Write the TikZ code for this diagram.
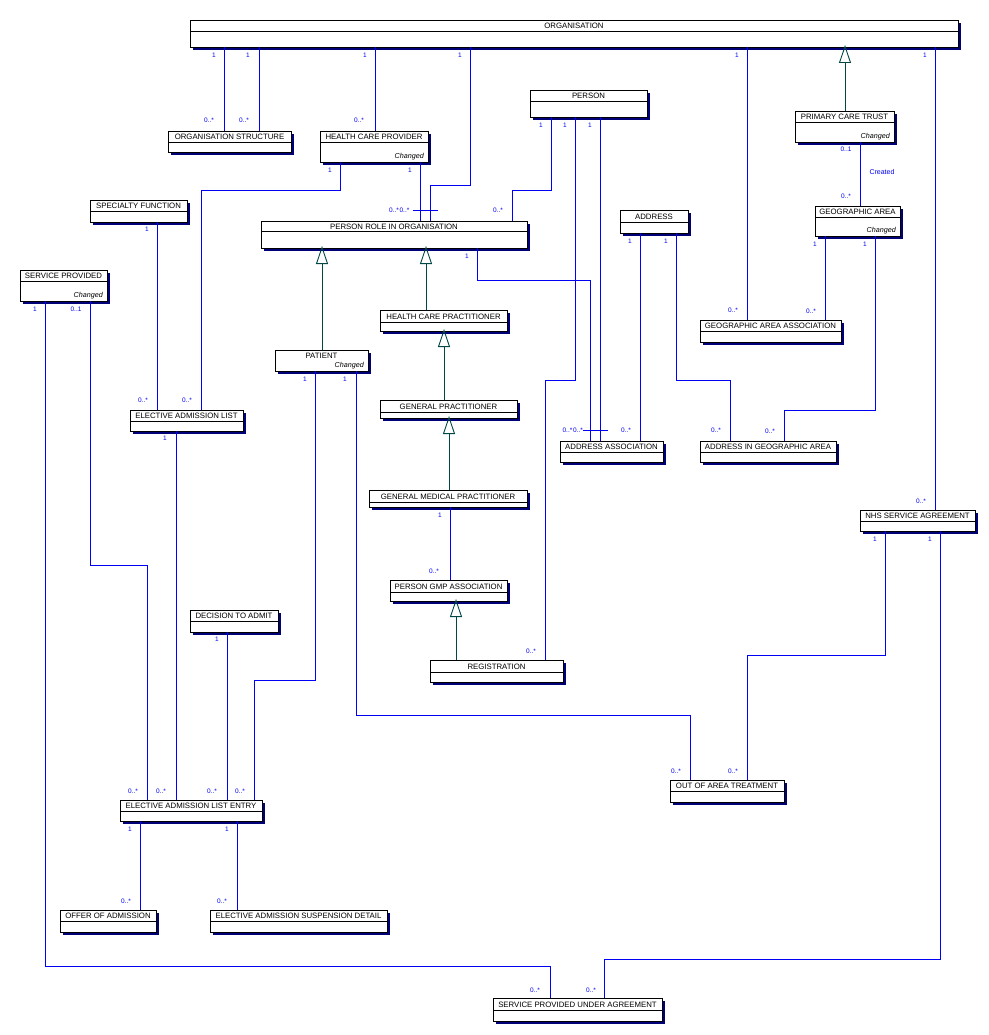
\documentclass[tikz,border=0pt]{standalone}
\usepackage{fontspec}
\setmainfont{Liberation Sans}
\usetikzlibrary{arrows.meta}
\definecolor{assocblue}{RGB}{0,0,245}
\definecolor{shadowc}{RGB}{0,0,120}
\definecolor{genc}{RGB}{0,72,72}
\tikzset{
  box/.style={draw=black, fill=white, line width=0.9pt, inner sep=0pt, outer sep=0pt},
  boxline/.style={draw=black, line width=0.9pt},
  titletext/.style={font=\fontsize{7.8}{9}\selectfont, inner sep=0pt},
  chg/.style={font=\itshape\fontsize{7.2}{8}\selectfont, inner sep=0pt, anchor=east},
  assoc/.style={draw=assocblue, line width=0.8pt},
  gen/.style={draw=genc, line width=0.9pt, -{Triangle[open, length=18pt, width=12pt]}, shorten >=-2pt},
  mult/.style={text=assocblue, font=\fontsize{6.5}{7}\selectfont, inner sep=0pt},
}
\newcounter{mlab}
\newcommand\ml[3]{\stepcounter{mlab}\node[mult] (m\arabic{mlab}) at (#1,#2) {#3};}
\newcommand\umlbox[7]{%
  \fill[shadowc] (#2+3,#3+3) rectangle (#4+3,#5+3);
  \node[box, minimum width={(#4-#2)*1pt}, minimum height={(#5-#3)*1pt}] (#1) at ({(#2+#4)/2},{(#3+#5)/2}) {};
  \draw[boxline] (#2,#6) -- (#4,#6);
  \node[titletext] (#1-t) at ({(#2+#4)/2},{(#3+#6)/2+0.7}) {#7};
}
\newcommand\umlboxc[7]{%
  \umlbox{#1}{#2}{#3}{#4}{#5}{#6}{#7}%
  \node[chg] (#1-c) at (#4-4,#5-5.5) {Changed};
}
\begin{document}
\begin{tikzpicture}[x=1pt,y=-1pt]
\useasboundingbox (0,0) rectangle (988,1035);
\fill[white] (0,0) rectangle (988,1035);

% ---------- classes ----------
\umlbox{org}{190}{20}{958}{47}{31}{ORGANISATION}
\umlbox{os}{168}{131}{291}{152}{142}{ORGANISATION STRUCTURE}
\umlboxc{hcp}{320}{131}{428}{162}{142}{HEALTH CARE PROVIDER}
\umlbox{person}{530}{90}{647}{117}{101}{PERSON}
\umlboxc{pct}{795}{111}{894}{142}{122}{PRIMARY CARE TRUST}
\umlboxc{ga}{815}{206}{900}{236}{217}{GEOGRAPHIC AREA}
\umlbox{addr}{620}{210}{688}{233}{222}{ADDRESS}
\umlbox{prio}{261}{221}{527}{248}{231}{PERSON ROLE IN ORGANISATION}
\umlbox{sf}{90}{200}{187}{222}{211}{SPECIALTY FUNCTION}
\umlboxc{sp}{20}{270}{107}{301}{281}{SERVICE PROVIDED}
\umlbox{gaa}{700}{320}{841}{342}{331}{GEOGRAPHIC AREA ASSOCIATION}
\umlbox{hcpr}{380}{310}{507}{331}{322}{HEALTH CARE PRACTITIONER}
\fill[shadowc] (278,353) rectangle (371,374);
\node[box, minimum width=93pt, minimum height=21pt] (pat) at (321.5,360.5) {};
\node[titletext] (pat-t) at (321.5,356) {PATIENT};
\node[chg] (pat-c) at (364,366) {Changed};
\umlbox{gp}{380}{400}{517}{418}{412}{GENERAL PRACTITIONER}
\umlbox{eal}{130}{410}{243}{431}{421}{ELECTIVE ADMISSION LIST}
\umlbox{aa}{560}{441}{663}{462}{452}{ADDRESS ASSOCIATION}
\umlbox{aiga}{700}{441}{836}{462}{452}{ADDRESS IN GEOGRAPHIC AREA}
\umlbox{gmp}{369}{490}{527}{507}{502}{GENERAL MEDICAL PRACTITIONER}
\umlbox{nhs}{860}{510}{975}{531}{521}{NHS SERVICE AGREEMENT}
\umlbox{pga}{390}{580}{507}{601}{592}{PERSON GMP ASSOCIATION}
\umlbox{dta}{190}{610}{278}{632}{621}{DECISION TO ADMIT}
\umlbox{reg}{430}{660}{563}{682}{672}{REGISTRATION}
\umlbox{ooat}{670}{780}{784}{802}{791}{OUT OF AREA TREATMENT}
\umlbox{eale}{120}{800}{262}{821}{811}{ELECTIVE ADMISSION LIST ENTRY}
\umlbox{ooa}{60}{910}{156}{932}{921}{OFFER OF ADMISSION}
\umlbox{susp}{210}{910}{387}{932}{921}{ELECTIVE ADMISSION SUSPENSION DETAIL}
\umlbox{spua}{493}{998}{662}{1021}{1010}{SERVICE PROVIDED UNDER AGREEMENT}

% ---------- associations ----------
\draw[assoc] (224,0 |- org.south) -- (224,0 |- os.north);
\draw[assoc] (259,0 |- org.south) -- (259,0 |- os.north);
\draw[assoc] (375,0 |- org.south) -- (375,0 |- hcp.north);
\draw[assoc] (470,0 |- org.south) |- (430,185) -- (430,0 |- prio.north);
\draw[assoc] (420,0 |- hcp.south) -- (420,0 |- prio.north);
\draw[assoc] (413,210) -- (438,210);
\draw[assoc] (551,0 |- person.south) |- (512,190) -- (512,0 |- prio.north);
\draw[assoc] (340,0 |- hcp.south) |- (201,190) -- (201,0 |- eal.north);
\draw[assoc] (157,0 |- sf.south) -- (157,0 |- eal.north);
\draw[assoc] (45,0 |- sp.south) |- (550,966) -- (550,0 |- spua.north);
\draw[assoc] (90,0 |- sp.south) |- (147,565) -- (147,0 |- eale.north);
\draw[assoc] (176,0 |- eal.south) -- (176,0 |- eale.north);
\draw[assoc] (227,0 |- dta.south) -- (227,0 |- eale.north);
\draw[assoc] (315,0 |- pat.south) |- (254,680) -- (254,0 |- eale.north);
\draw[assoc] (356,0 |- pat.south) |- (690,715) -- (690,0 |- ooat.north);
\draw[assoc] (885,0 |- nhs.south) |- (747,655) -- (747,0 |- ooat.north);
\draw[assoc] (940,0 |- nhs.south) |- (604,959) -- (604,0 |- spua.north);
\draw[assoc] (935,0 |- org.south) -- (935,0 |- nhs.north);
\draw[assoc] (747,0 |- org.south) -- (747,0 |- gaa.north);
\draw[assoc] (860,0 |- pct.south) -- (860,0 |- ga.north);
\draw[assoc] (825,0 |- ga.south) -- (825,0 |- gaa.north);
\draw[assoc] (875,0 |- ga.south) |- (784,410) -- (784,0 |- aiga.north);
\draw[assoc] (640,0 |- addr.south) -- (640,0 |- aa.north);
\draw[assoc] (676,0 |- addr.south) |- (730,380) -- (730,0 |- aiga.north);
\draw[assoc] (600,0 |- person.south) -- (600,0 |- aa.north);
\draw[assoc] (477,0 |- prio.south) |- (590,280) -- (590,0 |- aa.north);
\draw[assoc] (583,430) -- (608,430);
\draw[assoc] (575,0 |- person.south) |- (545,380) -- (545,0 |- reg.north);
\draw[assoc] (450,0 |- gmp.south) -- (450,0 |- pga.north);
\draw[assoc] (140,0 |- eale.south) -- (140,0 |- ooa.north);
\draw[assoc] (237,0 |- eale.south) -- (237,0 |- susp.north);

% ---------- generalisations ----------
\draw[gen] (322,0 |- pat.north) -- (322,0 |- prio.south);
\draw[gen] (426,0 |- hcpr.north) -- (426,0 |- prio.south);
\draw[gen] (444,0 |- gp.north) -- (444,0 |- hcpr.south);
\draw[gen] (449,0 |- gmp.north) -- (449,0 |- gp.south);
\draw[gen] (456,0 |- reg.north) -- (456,0 |- pga.south);
\draw[gen] (845,0 |- pct.north) -- (845,0 |- org.south);

% ---------- multiplicities ----------
\ml{214}{55}{1} \ml{248}{55}{1} \ml{365}{55}{1} \ml{460}{55}{1} \ml{737}{55}{1} \ml{925}{55}{1}
\ml{209}{120}{0..*} \ml{244}{120}{0..*} \ml{359}{120}{0..*}
\ml{330}{170}{1} \ml{410}{170}{1}
\ml{394}{210}{0..*} \ml{404.5}{210}{0..*} \ml{498}{210}{0..*}
\ml{541}{125}{1} \ml{565}{125}{1} \ml{590}{125}{1}
\ml{846}{149}{0..1}
\node[mult, font=\fontsize{7}{8}\selectfont] (created) at (882,172) {Created};
\ml{846}{196}{0..*}
\ml{630}{241}{1} \ml{666}{241}{1}
\ml{815}{244}{1} \ml{865}{244}{1}
\ml{733}{310}{0..*} \ml{811}{311}{0..*}
\ml{467}{256}{1}
\ml{147}{229}{1}
\ml{35}{309}{1} \ml{76}{309}{0..1}
\ml{143}{400}{0..*} \ml{187}{400}{0..*}
\ml{305}{379}{1} \ml{345}{379}{1}
\ml{165}{438}{1}
\ml{440}{515}{1}
\ml{434}{571}{0..*}
\ml{531}{651}{0..*}
\ml{567.5}{430}{0..*} \ml{578}{430}{0..*} \ml{626}{430}{0..*}
\ml{716}{430}{0..*} \ml{770}{431}{0..*}
\ml{921}{501}{0..*}
\ml{875}{539}{1} \ml{930}{539}{1}
\ml{676}{771}{0..*} \ml{733}{771}{0..*}
\ml{217}{639}{1}
\ml{133}{791}{0..*} \ml{161}{791}{0..*} \ml{212}{791}{0..*} \ml{240}{791}{0..*}
\ml{130}{829}{1} \ml{227}{829}{1}
\ml{126}{901}{0..*} \ml{222}{901}{0..*}
\ml{535}{990}{0..*} \ml{591}{990}{0..*}
\end{tikzpicture}
\end{document}
